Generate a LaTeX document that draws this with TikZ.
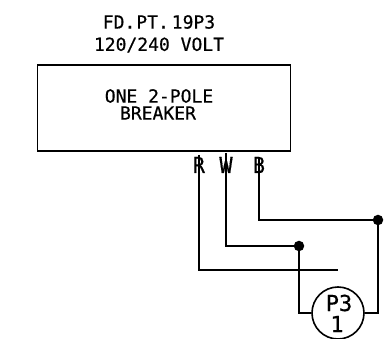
\documentclass[tikz,border=0pt]{standalone}
\usepackage{fontspec}
\setmainfont[FakeBold=0.5]{DejaVu Sans Mono}
\newfontfamily\termfont[FakeStretch=0.9,FakeBold=0.5]{DejaVu Sans Mono}
\tikzset{
  wire/.style={line width=1.6pt,line join=miter,line cap=butt},
  lbl/.style={inner sep=0pt,font=\fontsize{18}{18}\selectfont,text=black},
  term/.style={inner sep=0pt,text height=16pt,text depth=0pt,font=\termfont\fontsize{22}{22}\selectfont,text=black},
  wideterm/.style={inner sep=0pt,text height=16pt,text depth=0pt,font=\fontsize{22}{22}\selectfont,text=black},
  devtext/.style={inner sep=0pt,font=\fontsize{22}{22}\selectfont,text=black},
  junction/.style={circle,fill=black,inner sep=0pt,minimum size=10.5pt}
}
\begin{document}
\begin{tikzpicture}[x=1pt,y=-1pt]
\useasboundingbox (0,0) rectangle (392,339);
\node[lbl] (t1) at (159,22) {FD.\hspace{1pt}PT.\hspace{3pt}19P3};
\node[lbl] (t2) at (159,45) {120/240 VOLT};
\node[draw,line width=1.9pt,minimum width=253pt,minimum height=86pt,inner sep=0pt] (box) at (164,108) {};
\node[lbl] (t4) at (159,96) {ONE 2-POLE};
\node[lbl] (t5) at (158,113) {BREAKER};
\node[term] (R) at (199,165) {R};
\node[wideterm] (W) at (226,165) {W};
\node[term] (B) at (259,165) {B};
\node[draw,circle,line width=1.6pt,minimum size=52pt,inner sep=0pt] (dev) at (338,313) {};
\node[devtext] (p3) at (339,303) {P3};
\node[devtext] (one) at (337,324) {1};
\node[junction] (jw) at (299,246) {};
\node[junction] (jb) at (378,220) {};
\coordinate (Rtop) at (199,155);
\coordinate (Wtop) at (226,153);
\coordinate (Btop) at (259,157);
\coordinate (Rend) at (338,270);
\draw[wire] (Rtop) -- (199,270) -- (Rend);
\draw[wire] (Wtop) -- (226,246) -- (jw.center);
\draw[wire] (Btop) -- (259,220) -- (jb.center);
\draw[wire] (jw.center) |- (dev.west);
\draw[wire] (jb.center) |- (dev.east);
\end{tikzpicture}
\end{document}
